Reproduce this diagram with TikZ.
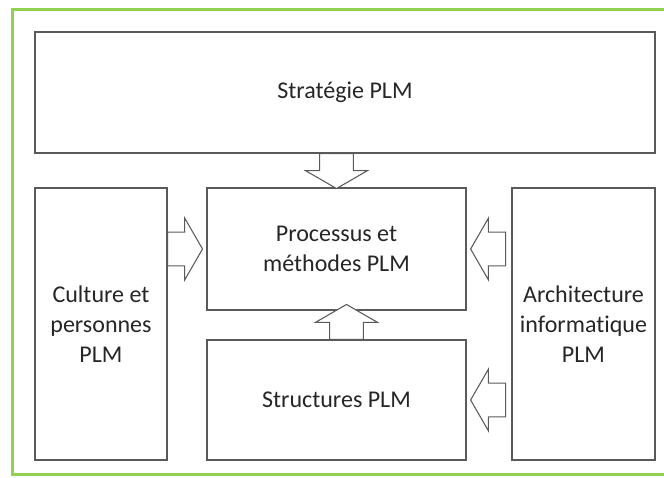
\documentclass[tikz,border=0pt]{standalone}
\usepackage{fontspec}
\setmainfont[Ligatures=NoCommon]{Carlito}
\usepackage{tikz}
\usetikzlibrary{shapes.arrows, positioning, calc}

\definecolor{vertcadre}{RGB}{146,208,80}
\definecolor{traitbloc}{RGB}{90,90,90}

\tikzset{
  bloc/.style={draw=traitbloc, line width=1.2pt, align=center, inner sep=0pt, outer sep=0pt,
    text=black!85, font=\fontsize{20.5}{25.5}\selectfont},
  fleche/.style={single arrow, draw=traitbloc, line width=0.9pt, fill=white,
    minimum height=1.05cm, inner xsep=0pt, inner ysep=0.49cm,
    single arrow head extend=0.42cm, single arrow tip angle=120}
}

\begin{document}
\begin{tikzpicture}[x=0.03cm, y=-0.03cm]
    \useasboundingbox (0,0) rectangle (664,478);

    % Cadre vert (ouvert a droite)
    \draw[vertcadre, line width=2.4pt] (12.5,9.5) rectangle (690,474.5);

    % Blocs
    \node[bloc, minimum width=18.6cm, minimum height=3.63cm] (strategie) at (345,92.5) {Stratégie PLM};
    \node[bloc, minimum width=3.96cm, minimum height=8.16cm] (culture) at (101,324) {Culture et\\personnes\\PLM};
    \node[bloc, minimum width=7.77cm, minimum height=3.66cm] (processus) at (336.5,249) {Processus et\\méthodes PLM};
    \node[bloc, minimum width=7.77cm, minimum height=3.6cm] (structures) at (336.5,400) {Structures PLM};
    \node[bloc, minimum width=4.29cm, minimum height=8.16cm] (architecture) at (583.5,324) {Architecture\\informatique\\PLM};

    % Fleches
    \node[fleche, rotate=-90, anchor=tail] (f1) at (processus.north |- strategie.south) {};
    \node[fleche, anchor=tail] (f2) at (culture.east |- processus.center) {};
    \node[fleche, rotate=180, anchor=tip] (f3) at ($(processus.east)+(4,0)$) {};
    \node[fleche, rotate=90, anchor=tail] (f4) at ($(structures.north)+(10,0)$) {};
    \node[fleche, rotate=180, anchor=tip] (f5) at ($(structures.east)+(4,0)$) {};

\end{tikzpicture}
\end{document}
